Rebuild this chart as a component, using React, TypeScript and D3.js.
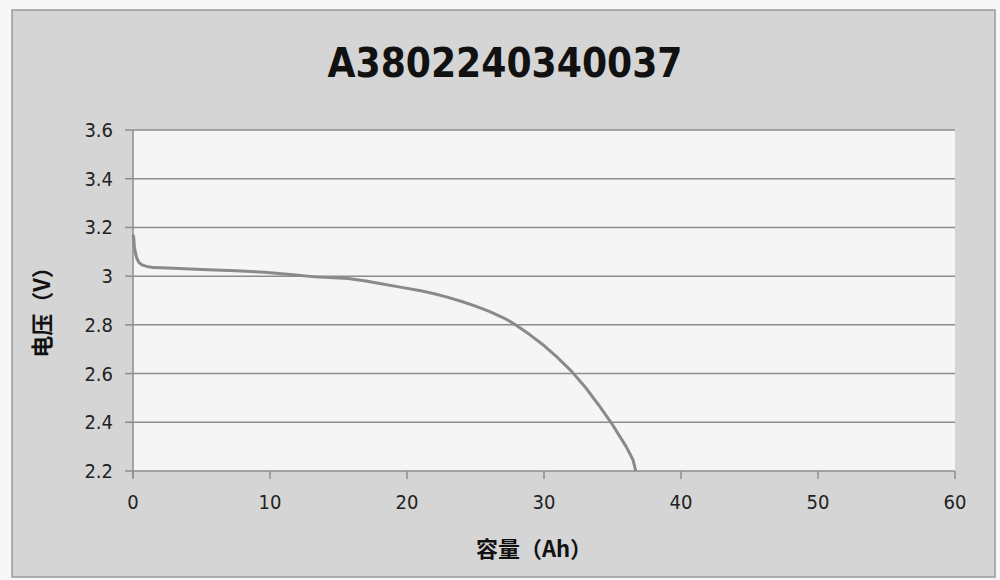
import React from "react";
import * as d3 from "d3";

const titleText = "A3802240340037";
const xTitle = "容量（Ah）";
const yTitle = "电压（V）";
const xTicks = [0, 10, 20, 30, 40, 50, 60];
const yTicks = [2.2, 2.4, 2.6, 2.8, 3.0, 3.2, 3.4, 3.6];
const yTickLabels = ["2.2", "2.4", "2.6", "2.8", "3", "3.2", "3.4", "3.6"];
const capacityAh = [0, 0.05, 0.1, 0.2, 0.3, 0.45, 0.7, 1.0, 1.5, 3, 5, 7.5, 9.6, 11.7, 13.3, 15.7, 17, 18, 19.5, 21, 22, 23, 24, 25, 26, 27, 27.5, 28, 29, 30, 31, 32, 33, 34, 35, 36, 36.5, 36.7];
const voltageV = [3.17, 3.16, 3.12, 3.09, 3.07, 3.055, 3.045, 3.04, 3.035, 3.032, 3.027, 3.022, 3.016, 3.006, 2.997, 2.99, 2.98, 2.97, 2.955, 2.94, 2.928, 2.913, 2.896, 2.877, 2.855, 2.83, 2.815, 2.797, 2.758, 2.715, 2.665, 2.61, 2.545, 2.47, 2.39, 2.3, 2.245, 2.2];

export default function App() {
  const W = 1000, H = 580;
  const x = d3.scaleLinear().domain([0, 60]).range([133, 955]);
  const y = d3.scaleLinear().domain([2.2, 3.6]).range([471, 130]);
  const pts: [number, number][] = capacityAh.map((c, i) => [c, voltageV[i]]);
  const line = d3.line<[number, number]>().x(d => x(d[0])).y(d => y(d[1]));
  const tickFont = "'DejaVu Sans Condensed', 'Liberation Sans Narrow', 'DejaVu Sans', sans-serif";
  return (
    <svg width={W} height={H} style={{ position: "absolute", left: 0, top: 0, display: "block" }}>
      <rect x={0} y={0} width={W} height={H} fill="#f7f7f7" />
      <rect x={12} y={10} width={983} height={567} fill="#d5d5d5" stroke="#9a9a9a" strokeWidth={1.5} />
      <text x={505} y={77} textAnchor="middle" fontFamily="'Liberation Sans Narrow', 'DejaVu Sans Condensed', sans-serif" fontWeight="bold" fontSize={40} fill="#111" textLength={355} lengthAdjust="spacingAndGlyphs">{titleText}</text>
      <rect x={x(0)} y={y(3.6)} width={x(60) - x(0)} height={y(2.2) - y(3.6)} fill="#f5f5f5" />
      {yTicks.map(t => (
        <g key={"y" + t}>
          <line x1={x(0)} x2={x(60)} y1={y(t)} y2={y(t)} stroke="#8c8c8c" strokeWidth={1.5} />
          <line x1={125} x2={x(0)} y1={y(t)} y2={y(t)} stroke="#8c8c8c" strokeWidth={1.5} />
        </g>
      ))}
      {yTicks.map((t, i) => (
        <text key={"yl" + t} x={113} y={y(t) + 7} textAnchor="end" fontFamily={tickFont} fontSize={20} fill="#222">{yTickLabels[i]}</text>
      ))}
      <line x1={x(0)} x2={x(0)} y1={y(3.6)} y2={y(2.2) + 7} stroke="#8c8c8c" strokeWidth={1.5} />
      {xTicks.map(t => (
        <g key={"x" + t}>
          <line x1={x(t)} x2={x(t)} y1={y(2.2)} y2={y(2.2) + 8} stroke="#8c8c8c" strokeWidth={1.5} />
          <text x={x(t)} y={509} textAnchor="middle" fontFamily={tickFont} fontSize={20} fill="#222">{t}</text>
        </g>
      ))}
      <path d={line(pts) || ""} fill="none" stroke="#8a8a8a" strokeWidth={3} strokeLinejoin="round" />
      <text x={534} y={557} textAnchor="middle" fontFamily="'Noto Sans CJK SC', sans-serif" fontWeight="bold" fontSize={22} fill="#111">{xTitle}</text>
      <text transform="translate(50,307) rotate(-90)" textAnchor="middle" fontFamily="'Noto Sans CJK SC', sans-serif" fontWeight="bold" fontSize={22} fill="#111">{yTitle}</text>
    </svg>
  );
}
